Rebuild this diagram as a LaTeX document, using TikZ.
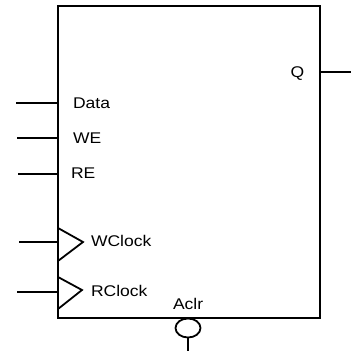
\documentclass[tikz,border=0pt]{standalone}
\usepackage{fontspec}
\setmainfont{Liberation Sans}
\usetikzlibrary{calc,shapes.geometric}
\tikzset{
  x=1pt,y=-1pt,
  wire/.style={line width=1.5pt,black},
  blockbox/.style={draw,line width=2pt,fill=none,rectangle,minimum width=262pt,minimum height=312pt,inner sep=0pt,outer sep=0pt},
  lbl/.style={font=\fontsize{15.5}{18}\selectfont,anchor=west,inner sep=0pt,outer sep=0pt,text=black,xscale=1.13},
  clocktri/.style={line width=1.8pt,line join=miter,black},
  bubble/.style={draw,line width=1.8pt,ellipse,minimum width=25pt,minimum height=19pt,inner sep=0pt,outer sep=0pt}
}
\begin{document}
\begin{tikzpicture}
\useasboundingbox (0,0) rectangle (351,351);
\node[blockbox] (box) at (189,162) {};
% inputs
\coordinate (dataL) at (16,103); \coordinate (dataR) at (58,103);
\coordinate (weL) at (17,138); \coordinate (weR) at (58,138);
\coordinate (reL) at (18,174); \coordinate (reR) at (58,174);
\coordinate (wcL) at (19,242); \coordinate (wcR) at (58,242);
\coordinate (rcL) at (17,292); \coordinate (rcR) at (58,292);
\coordinate (qL) at (320,72); \coordinate (qR) at (351,72);
\coordinate (clrB) at (188,351);
\draw[wire] (dataL) -- (dataR);
\draw[wire] (weL) -- (weR);
\draw[wire] (reL) -- (reR);
\draw[wire] (wcL) -- (wcR);
\draw[wire] (rcL) -- (rcR);
\draw[wire] (qL) -- (qR);
% clock triangles
\coordinate (wt1) at (58,228); \coordinate (wt2) at (83,242); \coordinate (wt3) at (58,261);
\coordinate (rt1) at (58,277); \coordinate (rt2) at (82,290); \coordinate (rt3) at (58,309);
\draw[clocktri] (wt1) -- (wt2) -- (wt3);
\draw[clocktri] (rt1) -- (rt2) -- (rt3);
% bubble
\node[bubble] (clr) at (188,328) {};
\draw[wire] (clr.south) -- (clrB);
% labels
\node[lbl] (data) at (73,103) {Data};
\node[lbl] (we) at (73,138) {WE};
\node[lbl] (re) at (71,173) {RE};
\node[lbl] (wclock) at (91,241) {WClock};
\node[lbl] (rclock) at (91,291) {RClock};
\node[lbl] (aclr) at (173,304) {Aclr};
\node[lbl,anchor=center] (q) at (297.5,73.5) {Q};
\end{tikzpicture}
\end{document}
